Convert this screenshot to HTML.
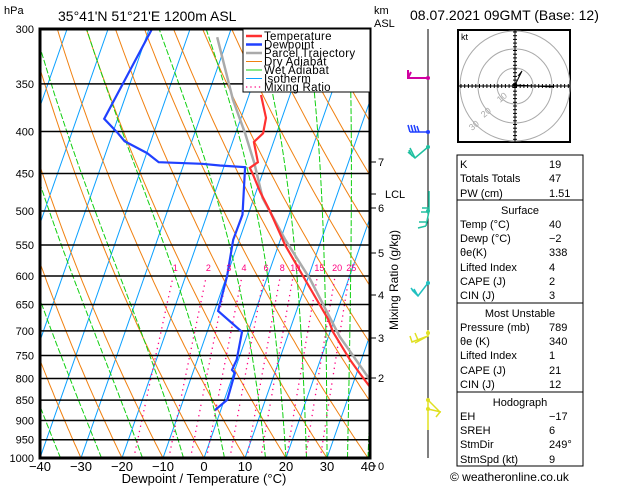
<!DOCTYPE html>
<html><head><meta charset="utf-8"><style>
html,body{margin:0;padding:0;background:#fff}
svg{display:block;font-family:"Liberation Sans","DejaVu Sans",sans-serif}
</style></head><body>
<svg id="chart" width="629" height="486" viewBox="0 0 629 486" xmlns="http://www.w3.org/2000/svg">
<defs><clipPath id="plotclip"><rect x="40" y="29" width="330" height="429"/></clipPath></defs>
<rect width="629" height="486" fill="#fff"/>
<g id="bg" clip-path="url(#plotclip)"></g>
<g id="press"></g>
<g id="series" clip-path="url(#plotclip)"></g>
<rect x="40" y="29" width="330" height="429" fill="none" stroke="#000" stroke-width="3"/>
<text x="4" y="14" font-size="11">hPa</text>
<text x="58" y="21" font-size="14">35°41'N  51°21'E  1200m  ASL</text>
<text x="374" y="14" font-size="11">km</text>
<text x="374" y="27" font-size="11">ASL</text>
<text x="410" y="20" font-size="14">08.07.2021  09GMT  (Base: 12)</text>
<text x="204" y="483" font-size="13" text-anchor="middle">Dewpoint / Temperature (°C)</text>
<text transform="translate(398,280) rotate(-90)" font-size="12" text-anchor="middle">Mixing Ratio (g/kg)</text>
<g id="axes"></g>
<g id="legend">
<rect x="243" y="29" width="127" height="63" fill="#fff" stroke="#000" stroke-width="1"/>
</g>
<g id="winds">
<line x1="428" y1="29" x2="428" y2="458" stroke="#000" stroke-width="1"/>
<path d="M428,78 L408,78 L408,70 M408,78 L411,72" stroke="#d000a0" stroke-width="2" fill="none"/>
<path d="M428,132 L410,132 M410,132 L408,125 M413,132 L411,125 M416,132 L414,125 M419,132 L417,126" stroke="#2040ff" stroke-width="1.5" fill="none"/>
<path d="M428,147 L415,158 L408,152 M415,158 L410,148 M412,156 L409,150" stroke="#20c0a0" stroke-width="1.5" fill="none"/>
<path d="M429,191 L429,211 L426,226 M429,208 L422,208 M429,212 L421,212 M426,226 L418,228 M426,222 L419,222" stroke="#20c0a0" stroke-width="1.5" fill="none"/>
<path d="M428,283 L418,296 L412,290 M418,296 L414,289 M415,293 L411,288" stroke="#20c0c0" stroke-width="1.5" fill="none"/>
<path d="M428,330 L428,336 L412,342 L410,336 M418,340 L415,333 M428,336 L415,343" stroke="#e0e020" stroke-width="1.5" fill="none"/>
<path d="M428,400 L428,430 M428,400 L440,412 L436,417 M428,409 L441,412" stroke="#e0e020" stroke-width="1.5" fill="none"/>
<circle cx="428" cy="78" r="2" fill="#d000a0"/><circle cx="428" cy="132" r="2" fill="#2040ff"/>
<circle cx="428" cy="147" r="2" fill="#20c0a0"/><circle cx="428" cy="211" r="2" fill="#20c0a0"/>
<circle cx="428" cy="283" r="2" fill="#20c0c0"/><circle cx="428" cy="333" r="2" fill="#e0e020"/>
<circle cx="428" cy="400" r="2" fill="#e0e020"/><circle cx="428" cy="409" r="2" fill="#e0e020"/>
</g>
<g id="hodo">
<rect x="458" y="30" width="112" height="112" fill="#fff" stroke="#000" stroke-width="2"/>
<g fill="none" stroke="#aaa" stroke-width="1">
<circle cx="515" cy="86" r="18"/><circle cx="515" cy="86" r="37"/><circle cx="515" cy="86" r="55"/>
</g>
<text x="461" y="40" font-size="9">kt</text>
<g id="hodoaxes" stroke="#000" stroke-width="1"></g>
<path d="M515,85 L553,87 M515,85 L522,71 L518,76" stroke="#000" stroke-width="1" fill="none"/>
<circle cx="515" cy="85" r="2" fill="#000"/>
<text x="500" y="103" font-size="9" fill="#aaa" transform="rotate(-40 500 103)">10</text>
<text x="484" y="118" font-size="9" fill="#aaa" transform="rotate(-40 484 118)">20</text>
<text x="472" y="131" font-size="9" fill="#aaa" transform="rotate(-40 472 131)">30</text>
</g>
<g id="table" font-size="11">
<rect x="457" y="155" width="126" height="311" fill="#fff" stroke="#000" stroke-width="1"/>
<line x1="457" y1="200" x2="583" y2="200" stroke="#000"/>
<line x1="457" y1="303" x2="583" y2="303" stroke="#000"/>
<line x1="457" y1="392" x2="583" y2="392" stroke="#000"/>
</g>
<text x="450" y="481" font-size="12">© weatheronline.co.uk</text>
<script>
// ---- data ----
const pressureLevels=[300,350,400,450,500,550,600,650,700,750,800,850,900,950,1000];
const xTicks=[-40,-30,-20,-10,0,10,20,30,40];
const tempP=[361,385,402,412,436,443,451,474,500,550,600,678,702,759,788,819,880];
const tempT=[-17.1,-13.9,-13.3,-14.8,-12.1,-13.6,-12.3,-9.0,-5.0,1.6,8.6,18.5,20.7,27.2,30.7,34.4,40];
const dewP=[300,386,402,411,425,436,438,440,442,505,542,600,662,702,759,781,788,849,874];
const dewT=[-49.3,-53.3,-48.7,-46.4,-39.9,-36.3,-25.6,-21.1,-14.8,-11.4,-11.5,-9.9,-9.1,-1.5,-0.4,-0.7,0.3,0.7,-1.4];
const parcelP=[307,366,402,438,482,542,606,711,805,880];
const parcelT=[-32.7,-23.5,-17.7,-12.8,-7.9,1.2,10.7,22.7,34.0,40];
const mixRatios=[1,2,3,4,6,8,10,15,20,25];
const kmLabels=["7","LCL","6","5","4","3","2","0"];
const kmY=[162,194,208,253,295,338,378,466];
const tableRows=[["K","19"],["Totals Totals","47"],["PW (cm)","1.51"],["@Surface",""],["Temp (°C)","40"],["Dewp (°C)","\u22122"],["θe(K)","338"],["Lifted Index","4"],["CAPE (J)","2"],["CIN (J)","3"],["@Most Unstable",""],["Pressure (mb)","789"],["θe (K)","340"],["Lifted Index","1"],["CAPE (J)","21"],["CIN (J)","12"],["@Hodograph",""],["EH","\u221217"],["SREH","6"],["StmDir","249°"],["StmSpd (kt)","9"]];
const tableY=[168,182,197,214,228,242,256,271,285,299,317,331,345,359,374,388,406,420,434,448,463];
const legendNames=["Temperature","Dewpoint","Parcel Trajectory","Dry Adiabat","Wet Adiabat","Isotherm","Mixing Ratio"];
// ---- scales ----
const NS="http://www.w3.org/2000/svg";
const yP=p=>29+Math.log(p/300)/Math.log(1000/300)*429;
const xT=(T,p)=>40+(T+40)*4.1+0.35*(458-yP(p));
function mk(tag,attrs,parent){const e=document.createElementNS(NS,tag);for(const k in attrs)e.setAttribute(k,attrs[k]);parent.appendChild(e);return e;}
function poly(pts,parent,stroke,w,dash){const d=pts.map((q,i)=>(i?'L':'M')+q[0].toFixed(1)+','+q[1].toFixed(1)).join('');const a={d:d,fill:'none',stroke:stroke,'stroke-width':w};if(dash)a['stroke-dasharray']=dash;return mk('path',a,parent);}
const bg=document.getElementById('bg');
for(let T=-160;T<=40;T+=10){const e=poly([[xT(T,1000),yP(1000)],[xT(T,300),yP(300)]],bg,'#0aa0ff',1);

}
for(let t0=-60;t0<=160;t0+=10){const th=t0+273.15;const pts=[];for(let p=1000;p>=300;p-=10){pts.push([xT(th*Math.pow(p/1000,0.2857)-273.15,p),yP(p)]);}
const e=poly(pts,bg,'#f08010',1);

}
const es=T=>6.112*Math.exp(17.67*T/(T+243.5));
const wetList=[-75,-65,-55,-45,-35,-25,-15,-5,5,15,20,25,30,35,40];
wetList.forEach(tw=>{let T=tw+273.15;const pts=[];for(let p=1000;p>=300;p-=5){pts.push([xT(T-273.15,p),yP(p)]);const e=es(T-273.15);const rs=0.622*e/(p-e);const g=(287*T+2.5e6*rs)/(p*100*(1004+2.5e6*2.5e6*rs*0.622/(287*T*T)));T-=g*500;}
const e=poly(pts,bg,'#10d010',1,'6,2');

});
const mixLabelG=mk('g',{},document.getElementById('chart'));
mixRatios.forEach(w=>{const pts=[];for(let p=1000;p>=600;p-=10){const e=w*p/(622+w);const l=Math.log(e/6.112);const Td=243.5*l/(17.67-l);pts.push([xT(Td,p),yP(p)]);}
const e=poly(pts,bg,'#ff0080',1.3,'1.3,4');


const t=mk('text',{x:(pts[pts.length-1][0]+2).toFixed(1),y:271,'font-size':9,fill:'#ff0080','text-anchor':'middle'},mixLabelG);t.textContent=String(w);

});
const pg=document.getElementById('press');
pressureLevels.forEach(p=>{const y=yP(p);const l=mk('line',{x1:40,x2:370,y1:y,y2:y,stroke:'#000','stroke-width':1.5},pg);


const t=mk('text',{x:34,y:y+4,'font-size':11,'text-anchor':'end'},pg);t.textContent=String(p);

});
const ax=document.getElementById('axes');
xTicks.forEach(T=>{const t=mk('text',{x:xT(T,1000),y:471,'font-size':13,'text-anchor':'middle'},ax);t.textContent=(T<0?'\u2212':'')+Math.abs(T);

});
kmLabels.forEach((k,i)=>{mk('line',{x1:370,x2:376,y1:kmY[i],y2:kmY[i],stroke:'#000'},ax);const t=mk('text',{x:k==='LCL'?385:378,y:kmY[i]+4,'font-size':11},ax);t.textContent=k;

});
const sg=document.getElementById('series');
const gp=poly(parcelP.map((p,i)=>[xT(parcelT[i],p),yP(p)]),sg,'#aaa',2.5);


const tl=poly(tempP.map((p,i)=>[xT(tempT[i],p),yP(p)]),sg,'#ff3030',2.2);


const dl=poly(dewP.map((p,i)=>[xT(dewT[i],p),yP(p)]),sg,'#2040ff',2.2);


const lg=document.getElementById('legend');
const legCols=['#ff3030','#2040ff','#aaa','#f08010','#10d010','#0aa0ff','#ff0080'];
const legW=[2.5,2.5,2.5,1,1,1,1.3];
legendNames.forEach((n,i)=>{const y=36+i*8.5;const a={x1:246,x2:262,y1:y,y2:y,stroke:legCols[i],'stroke-width':legW[i]};if(i===6)a['stroke-dasharray']='1.3,3';mk('line',a,lg);
const t=mk('text',{x:264,y:y+4,'font-size':11.5,'letter-spacing':'0.3'},lg);t.textContent=n;

});
const ha=document.getElementById('hodoaxes');
mk('line',{x1:458,x2:570,y1:86,y2:86},ha);mk('line',{x1:515,x2:515,y1:30,y2:142},ha);
for(let d=-54;d<=54;d+=3.7){mk('line',{x1:515+d,x2:515+d,y1:84,y2:88},ha);mk('line',{x1:513,x2:517,y1:86+d,y2:86+d},ha);}
const tb=document.getElementById('table');
tableRows.forEach((r,i)=>{if(r[0][0]==='@'){const t=mk('text',{x:520,y:tableY[i],'text-anchor':'middle'},tb);t.textContent=r[0].slice(1);

}
else{const a=mk('text',{x:460,y:tableY[i]},tb);a.textContent=r[0];


const b=mk('text',{x:549,y:tableY[i]},tb);b.textContent=r[1];

}});
</script>
</svg>
</body></html>
